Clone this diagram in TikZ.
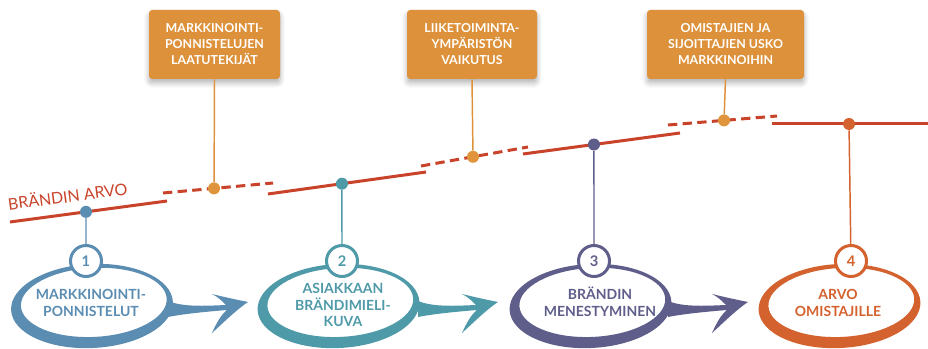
\documentclass[tikz,border=0pt]{standalone}
\usepackage{fontspec}
\setmainfont{Lato}
\usetikzlibrary{calc,shadows.blur}
\definecolor{redline}{HTML}{C9432A}
\definecolor{boxor}{HTML}{DD913A}
\definecolor{dotor}{HTML}{E0953C}
\definecolor{cA}{HTML}{5B8DB2}
\definecolor{cB}{HTML}{4F9AA8}
\definecolor{cC}{HTML}{5F5E8B}
\definecolor{cD}{HTML}{D4622E}
\begin{document}
\begin{tikzpicture}[x=0.75pt,y=-0.75pt,
  valline/.style={draw=redline,line width=2.25pt},
  valdash/.style={draw=redline,line width=2.25pt,dash pattern=on 7pt off 4pt},
  dot/.style={circle,fill=#1,minimum size=9pt,inner sep=0pt},
  factor/.style={rectangle,rounded corners=2.5pt,fill=boxor,text=white,
    font=\bfseries\fontsize{9.3}{12}\selectfont,align=center,
    minimum height=51.75pt,inner sep=0pt,
    blur shadow={shadow xshift=0pt,shadow yshift=-3pt,shadow opacity=30,shadow blur steps=8,shadow blur radius=4pt}},
  numc/.style={circle,draw=#1,fill=white,line width=2.25pt,minimum size=23.25pt,
    inner sep=0pt,text=#1,font=\bfseries\fontsize{11}{12}\selectfont},
  stem/.style={draw=#1,line width=1.1pt},
  blobtext/.style={text=#1,font=\bfseries\fontsize{10.5}{12.4}\selectfont,align=center},
]
\useasboundingbox (0,0) rectangle (928,349);

% value line segments
\coordinate (s1a) at (10,222);  \coordinate (s1b) at (167,201);
\coordinate (d1a) at (163,193); \coordinate (d1b) at (273,183);
\coordinate (s2a) at (268,194); \coordinate (s2b) at (426,172);
\coordinate (d2a) at (421,166); \coordinate (d2b) at (528,147);
\coordinate (s3a) at (523,154); \coordinate (s3b) at (680,133);
\coordinate (d3a) at (668,125); \coordinate (d3b) at (777,116);
\coordinate (s4a) at (772,124); \coordinate (s4b) at (928,124);

\draw[valline] (s1a) -- (s1b);
\draw[valdash] (d1a) -- (d1b);
\draw[valline] (s2a) -- (s2b);
\draw[valdash] (d2a) -- (d2b);
\draw[valline] (s3a) -- (s3b);
\draw[valdash] (d3a) -- (d3b);
\draw[valline] (s4a) -- (s4b);

\node[text=redline,font=\fontsize{12}{13}\selectfont,rotate=7.5] (arvo) at (67.5,195.5) {BRÄNDIN ARVO};

% dots
\node[dot=cA] (p1) at ($(s1a)!0.484!(s1b)$) {};
\node[dot=dotor] (q1) at ($(d1a)!0.464!(d1b)$) {};
\node[dot=cB] (p2) at ($(s2a)!0.468!(s2b)$) {};
\node[dot=dotor] (q2) at ($(d2a)!0.486!(d2b)$) {};
\node[dot=cC] (p3) at ($(s3a)!0.452!(s3b)$) {};
\node[dot=dotor] (q3) at ($(d3a)!0.514!(d3b)$) {};
\node[dot=cD] (p4) at (849,124) {};

% factor boxes
\node[factor,minimum width=98.25pt] (f1) at (214.5,44.5) {MARKKINOINTI-\\PONNISTELUJEN\\LAATUTEKIJÄT};
\node[factor,minimum width=97.5pt] (f2) at (472,44.5) {LIIKETOIMINTA-\\YMPÄRISTÖN\\VAIKUTUS};
\node[factor,minimum width=117.75pt] (f3) at (725.5,44.5) {OMISTAJIEN JA\\SIJOITTAJIEN USKO\\MARKKINOIHIN};
\draw[stem=boxor] (f1.south) -- (q1);
\draw[stem=boxor] (f2.south) -- (q2);
\draw[stem=boxor] (f3.south) -- (q3);

% tails with arrowheads
\newcommand{\tailarrow}[2]{%
  \fill[#1] ($(#2)+(-80,-1)$) .. controls ($(#2)+(-65,5)$) and ($(#2)+(-45,4)$) .. ($(#2)+(-22,3)$)
    .. controls ($(#2)+(-26,-1)$) and ($(#2)+(-30,-5)$) .. ($(#2)+(-36,-8)$)
    .. controls ($(#2)+(-24,-5)$) and ($(#2)+(-10,-2)$) .. (#2)
    .. controls ($(#2)+(-12,8)$) and ($(#2)+(-26,22)$) .. ($(#2)+(-36,31)$)
    .. controls ($(#2)+(-31,20)$) and ($(#2)+(-27,13)$) .. ($(#2)+(-21,8)$)
    .. controls ($(#2)+(-45,10)$) and ($(#2)+(-65,12)$) .. ($(#2)+(-80,15)$) -- cycle;}
\coordinate (t1) at (248,302);
\coordinate (t2) at (498,302);
\coordinate (t3) at (748,302);
\tailarrow{cA}{t1}
\tailarrow{cB}{t2}
\tailarrow{cC}{t3}

% blobs: ring with thick lower-left and thin upper-right
\newcommand{\blobring}[2]{%
  \begin{scope}[shift={(#2,0)}]
    \fill[white,rotate around={3:(2,302.5)}] (2,302.5) ellipse [x radius=73,y radius=34.5];
    \fill[#1,even odd rule,rotate around={3:(0,306)}] (0,306) ellipse [x radius=81,y radius=42]
      (2,302.5) ellipse [x radius=73,y radius=34.5];
  \end{scope}}
\blobring{cA}{92}
\blobring{cB}{338.5}
\blobring{cC}{590.5}
\blobring{cD}{839.5}

\node[numc=cA] (n1) at (86,261) {1};
\node[numc=cB] (n2) at (342,261) {2};
\node[numc=cC] (n3) at (594,261) {3};
\node[numc=cD] (n4) at (851,261) {4};
\draw[stem=cA] (p1) -- (n1);
\draw[stem=cB] (p2) -- (n2);
\draw[stem=cC] (p3) -- (n3);
\draw[stem=cD] (p4) -- (n4);

\node[blobtext=cA] (b1) at (91,303) {MARKKINOINTI-\\PONNISTELUT};
\node[blobtext=cB] (b2) at (343,305) {ASIAKKAAN\\BRÄNDIMIELI-\\KUVA};
\node[blobtext=cC] (b3) at (600,302) {BRÄNDIN\\MENESTYMINEN};
\node[blobtext=cD] (b4) at (838,303) {ARVO\\OMISTAJILLE};
\end{tikzpicture}
\end{document}
